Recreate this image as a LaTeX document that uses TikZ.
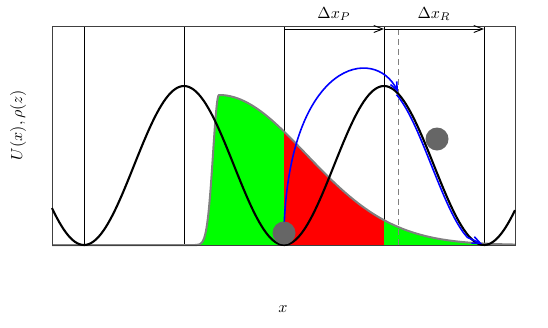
\documentclass[tikz,border=0pt]{standalone}
\usetikzlibrary{arrows.meta}
\definecolor{dotgray}{RGB}{102,102,102}
\definecolor{outgray}{RGB}{128,128,128}
\begin{document}
\begin{tikzpicture}[x=1pt,y=-1pt,
  declare function={
    dl(\t)=245-150*exp(-((\t-219)/6)*((\t-219)/6)/2);
    dr(\t)=245-150*exp(-((\t-219)/87)*((\t-219)/87)/2);
    pot(\t)=245-79.5*(1-cos(1.8*(\t-84)));
  },
  vline/.style={black, line width=0.9pt},
  frame/.style={draw=black!75, line width=0.9pt},
  potline/.style={black, line width=2.1pt},
  densline/.style={outgray, line width=2pt},
  bluearrow/.style={blue, line width=1.6pt, -{Straight Barb[length=8pt,width=7pt]}},
  toparrow/.style={black, line width=0.9pt, -{Straight Barb[length=9pt,width=7pt]}},
  ball/.style={circle, fill=dotgray, minimum size=23pt, inner sep=0pt},
  lbl/.style={scale=1.6},
]
\useasboundingbox (0,0) rectangle (548,327);

% vertical lines
\foreach \xx/\nm in {84/v1,184/v2,284/v3,384/v4,484/v5}{
  \coordinate (\nm t) at (\xx,26);
  \coordinate (\nm b) at (\xx,245);
  \draw[vline] (\nm t) -- (\nm b);
}

% density fills
\fill[green] plot[domain=196:219,samples=40] (\x,{dl(\x)}) -- plot[domain=219:284,samples=30] (\x,{dr(\x)}) -- (284,245) -- (196,245) -- cycle;
\fill[red] plot[domain=284:384,samples=40] (\x,{dr(\x)}) -- (384,245) -- (284,245) -- cycle;
\fill[green] plot[domain=384:515,samples=40] (\x,{dr(\x)}) -- (515,245) -- (384,245) -- cycle;
\draw[densline] (52,245) -- (196,245) -- plot[domain=196:219,samples=40] (\x,{dl(\x)}) -- plot[domain=219:515,samples=80] (\x,{dr(\x)});

% frame
\coordinate (fa) at (52,26);
\coordinate (fb) at (515,245);
\draw[frame] (fa) rectangle (fb);

% dashed line
\coordinate (dt) at (398,29);
\coordinate (db) at (398,245);
\draw[outgray, line width=1pt, dash pattern=on 6pt off 4pt] (dt) -- (db);

% potential
\draw[potline] plot[domain=52:515,samples=200] (\x,{pot(\x)});

% top arrows
\coordinate (a0) at (284,29);
\coordinate (a1) at (384,29);
\coordinate (a2) at (484,29);
\draw[toparrow] (a0) -- (a1);
\draw[toparrow] (a1) -- (a2);
\node[lbl] (lp) at (334,14) {$\Delta x_P$};
\node[lbl] (lr) at (434,14) {$\Delta x_R$};

% blue trajectories
\coordinate (b0) at (284,228);
\coordinate (b1) at (398,92);
\coordinate (b2) at (482,244);
\draw[bluearrow] (b0) .. controls (290,60) and (375,45) .. (b1);
\draw[bluearrow] plot[domain=399:470,samples=50] ({\x-2.5},{pot(\x)}) -- (b2);

% balls
\node[ball] (d1) at (284,233) {};
\node[ball] (d2) at (437,139) {};

% axis labels
\node[lbl, rotate=90] (ly) at (18,125) {$U(x),\rho(z)$};
\node[lbl] (lx) at (283,309) {$x$};
\end{tikzpicture}
\end{document}
